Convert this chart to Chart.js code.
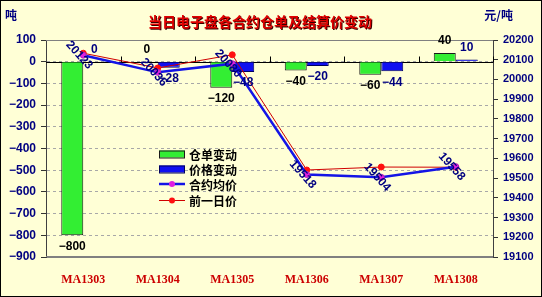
<!DOCTYPE html>
<html>
<head>
<meta charset="utf-8">
<script src="https://cdn.jsdelivr.net/npm/chart.js@4.4.0/dist/chart.umd.min.js"></script>
<style>
  html, body { margin: 0; padding: 0; background: #FFFFD6; }
  canvas { display: block; }
</style>
</head>
<body>
<canvas id="c" width="542" height="297"></canvas>
<script>
// Contracts and daily figures
const categories    = ['MA1303', 'MA1304', 'MA1305', 'MA1306', 'MA1307', 'MA1308'];
const warrantChange = [-800, 0, -120, -40, -60, 40];        // 仓单变动 (吨)
const priceChange   = [0, -28, -48, -20, -44, 10];          // 价格变动 (元/吨)
const avgPrice      = [20123, 20036, 20080, 19518, 19504, 19558]; // 合约均价
const prevPrice     = [20133, 20058, 20125, 19541, 19556, 19555]; // 前一日价

const leftTicks  = { min: -900, max: 100, step: 100 };
const rightTicks = { min: 19100, max: 20200, step: 100 };

const BG = '#FFFFD6';
const NAVY = '#000080';
const CJK = "'Noto Sans CJK SC', sans-serif";
const NUM = "'Liberation Sans', Arial, sans-serif";

function fmt(v) { return String(v).replace('-', '\u2212'); }

const decorations = {
  id: 'decorations',
  beforeDraw(chart) {
    const { ctx, width, height } = chart;
    ctx.save();
    ctx.fillStyle = BG;
    ctx.fillRect(0, 0, width, height);
    ctx.restore();
  },
  beforeDatasetsDraw(chart) {
    const { ctx, chartArea: a, scales } = chart;
    const y0 = Math.round(scales.y.getPixelForValue(0)) + 0.5;
    ctx.save();
    // solid frame lines at top and bottom of the plot
    ctx.strokeStyle = '#808080';
    ctx.lineWidth = 1;
    ctx.beginPath();
    ctx.moveTo(a.left, Math.round(a.top) + 0.5);
    ctx.lineTo(a.right, Math.round(a.top) + 0.5);
    ctx.moveTo(a.left, Math.round(a.bottom) - 0.5);
    ctx.lineTo(a.right, Math.round(a.bottom) - 0.5);
    ctx.stroke();
    // category axis through zero with boundary ticks
    ctx.strokeStyle = '#000000';
    ctx.beginPath();
    ctx.moveTo(a.left, y0);
    ctx.lineTo(a.right, y0);
    const n = categories.length;
    for (let k = 1; k <= n; k++) {
      const x = Math.round(a.left + k * (a.right - a.left) / n) + 0.5;
      ctx.moveTo(x, y0);
      ctx.lineTo(x, y0 - 6);
    }
    ctx.stroke();
    ctx.restore();
  },
  afterDraw(chart) {
    const { ctx, width, height } = chart;
    ctx.save();

    // bar value labels
    ctx.font = 'bold 12px ' + NUM;
    ctx.textAlign = 'center';
    ctx.textBaseline = 'middle';
    [0, 1].forEach(di => {
      const meta = chart.getDatasetMeta(di);
      const vals = chart.data.datasets[di].data;
      ctx.fillStyle = di === 0 ? '#000000' : NAVY;
      meta.data.forEach((el, i) => {
        const v = vals[i];
        const y = v < 0 ? el.y + 11 : el.y - 12;
        ctx.fillText(fmt(v), el.x, y);
      });
    });

    // average price labels, set along the slope
    const lm = chart.getDatasetMeta(2);
    ctx.fillStyle = NAVY;
    ctx.font = 'bold 12px ' + NUM;
    lm.data.forEach((el, i) => {
      ctx.save();
      ctx.translate(el.x - 4, el.y);
      ctx.rotate(48 * Math.PI / 180);
      ctx.fillText(String(avgPrice[i]), 0, 0);
      ctx.restore();
    });

    // title with a dark drop shadow
    ctx.save();
    ctx.font = 'bold 14px ' + CJK;
    ctx.textAlign = 'center';
    ctx.shadowColor = '#3a0000';
    ctx.shadowOffsetX = 1;
    ctx.shadowOffsetY = 1;
    ctx.fillStyle = '#E00000';
    ctx.fillText('当日电子盘各合约仓单及结算价变动', 260, 22);
    ctx.restore();

    // axis units
    ctx.font = 'bold 12px ' + CJK;
    ctx.fillStyle = NAVY;
    ctx.textAlign = 'left';
    ctx.fillText('吨', 5, 15);
    ctx.textAlign = 'right';
    ctx.fillText('元/吨', 513, 15);

    // legend
    const lx = 159, lw = 26, tx = 189;
    const rows = [154, 169, 184, 200];
    ctx.lineWidth = 1;
    ctx.fillStyle = '#33EE33';
    ctx.strokeStyle = '#1A1A1A';
    ctx.fillRect(lx, rows[0] - 3.5, lw, 7);
    ctx.strokeRect(lx + 0.5, rows[0] - 3, lw - 1, 7);
    ctx.fillStyle = '#1010F0';
    ctx.strokeStyle = '#000060';
    ctx.fillRect(lx, rows[1] - 3.5, lw, 7);
    ctx.strokeRect(lx + 0.5, rows[1] - 3, lw - 1, 7);

    ctx.strokeStyle = '#1414E6';
    ctx.lineWidth = 2.5;
    ctx.beginPath(); ctx.moveTo(lx, rows[2]); ctx.lineTo(lx + lw, rows[2]); ctx.stroke();
    ctx.fillStyle = '#E020E0';
    ctx.beginPath(); ctx.arc(lx + lw / 2, rows[2], 3, 0, Math.PI * 2); ctx.fill();

    ctx.strokeStyle = '#D00000';
    ctx.lineWidth = 1;
    ctx.beginPath(); ctx.moveTo(lx, rows[3] + 0.5); ctx.lineTo(lx + lw, rows[3] + 0.5); ctx.stroke();
    ctx.fillStyle = '#FF1010';
    ctx.beginPath(); ctx.arc(lx + lw / 2, rows[3] + 0.5, 3, 0, Math.PI * 2); ctx.fill();

    ctx.font = 'bold 12px ' + CJK;
    ctx.fillStyle = '#000000';
    ctx.textAlign = 'left';
    ctx.textBaseline = 'middle';
    chart.data.datasets.forEach((ds, i) => ctx.fillText(ds.label, tx, rows[i] + 1));

    // outer frame
    ctx.strokeStyle = '#000000';
    ctx.lineWidth = 1;
    ctx.strokeRect(0.5, 0.5, width - 1, height - 1);
    ctx.restore();
  }
};

new Chart(document.getElementById('c'), {
  data: {
    labels: categories,
    datasets: [
      { type: 'bar', label: '仓单变动', data: warrantChange, yAxisID: 'y',
        backgroundColor: '#33EE33', borderColor: '#1A1A1A', borderWidth: 1,
        categoryPercentage: 0.59, barPercentage: 1, order: 3 },
      { type: 'bar', label: '价格变动', data: priceChange, yAxisID: 'y',
        backgroundColor: '#1010F0', borderColor: '#000060', borderWidth: 1,
        categoryPercentage: 0.59, barPercentage: 1, order: 3 },
      { type: 'line', label: '合约均价', data: avgPrice, yAxisID: 'y1',
        borderColor: '#1414E6', borderWidth: 2.5, tension: 0,
        pointRadius: 3, pointBackgroundColor: '#E020E0', pointBorderColor: '#B020C0',
        pointBorderWidth: 1, order: 1 },
      { type: 'line', label: '前一日价', data: prevPrice, yAxisID: 'y1',
        borderColor: '#D00000', borderWidth: 1, tension: 0,
        pointRadius: 3, pointBackgroundColor: '#FF1010', pointBorderColor: '#FF1010',
        order: 2 }
    ]
  },
  options: {
    responsive: false,
    animation: false,
    layout: { padding: { top: 40, left: 0, right: 0, bottom: 0 } },
    plugins: { legend: { display: false }, title: { display: false }, tooltip: { enabled: false } },
    scales: {
      x: {
        grid: { display: false },
        border: { display: true, color: '#808080' },
        ticks: { color: '#CC0000', padding: 8, maxRotation: 0,
                 font: { family: "'Liberation Serif', serif", size: 12, weight: 'bold' } },
        afterFit(s) { s.height = 40; }
      },
      y: {
        position: 'left',
        min: leftTicks.min, max: leftTicks.max,
        ticks: { stepSize: leftTicks.step, color: NAVY, padding: 5,
                 font: { family: NUM, size: 12, weight: 'bold' }, callback: v => fmt(v) },
        grid: { color: '#A8A8A8', tickColor: '#333333', tickLength: 5 },
        border: { color: '#404040', dash: [3, 3] },
        afterFit(s) { s.width = 46; }
      },
      y1: {
        position: 'right',
        min: rightTicks.min, max: rightTicks.max,
        ticks: { stepSize: rightTicks.step, color: NAVY, padding: 5,
                 font: { family: NUM, size: 11, weight: 'bold' }, callback: v => String(v) },
        grid: { drawOnChartArea: false, tickColor: '#333333', tickLength: 5 },
        border: { color: '#404040' },
        afterFit(s) { s.width = 49; }
      }
    }
  },
  plugins: [decorations]
});
</script>
</body>
</html>
